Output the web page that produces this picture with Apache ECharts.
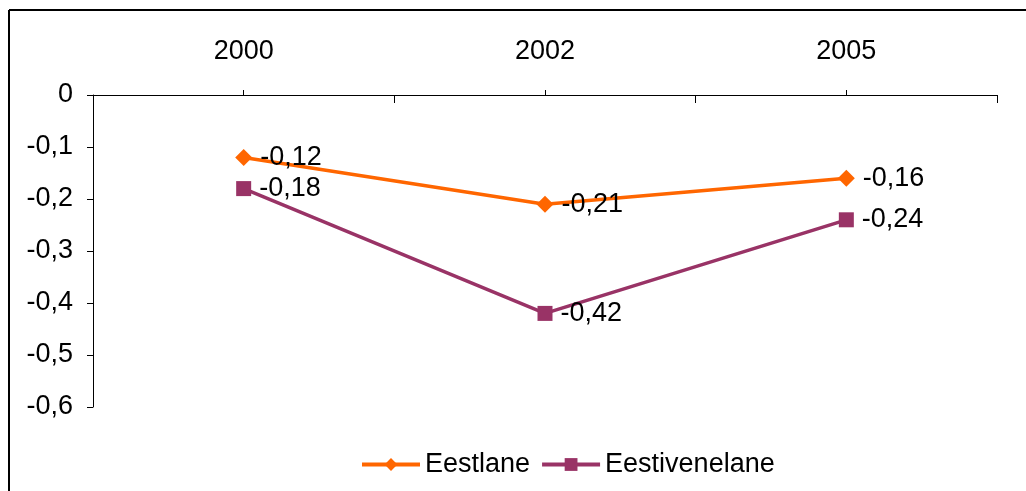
<!DOCTYPE html>
<html>
<head>
<meta charset="utf-8">
<script src="https://cdn.jsdelivr.net/npm/echarts@6/dist/echarts.min.js"></script>
<style>
  html, body { margin: 0; padding: 0; background: #fff; }
  #chart { width: 1026px; height: 491px; }
</style>
</head>
<body>
<div id="chart"></div>
<script>
const years = ['2000', '2002', '2005'];
const eestlane = [-0.12, -0.21, -0.16];
const eestivenelane = [-0.18, -0.42, -0.24];
const yTicks = [0, -0.1, -0.2, -0.3, -0.4, -0.5, -0.6];

const FONT = 'Liberation Sans, Arial, sans-serif';
const FS = 27;
const fmt = v => String(Math.round(v * 100) / 100).replace('.', ',');

const chart = echarts.init(document.getElementById('chart'));

const labelStyle = {
  show: true,
  position: 'right',
  distance: 8,
  color: '#000',
  fontSize: FS,
  fontFamily: FONT,
  formatter: p => fmt(p.value),
};

chart.setOption({
  animation: false,
  backgroundColor: '#fff',
  graphic: [
    { type: 'line', shape: { x1: 9, y1: 10, x2: 1026, y2: 10 }, style: { stroke: '#000', lineWidth: 2 } },
    { type: 'line', shape: { x1: 9, y1: 10, x2: 9, y2: 491 }, style: { stroke: '#000', lineWidth: 2 } },
  ],
  grid: { left: 93, right: 29, top: 95, bottom: 84, containLabel: false },
  legend: {
    left: 355,
    top: 446,
    itemWidth: 58,
    itemHeight: 16,
    itemGap: 10,
    lineStyle: { width: 4 },
    textStyle: { fontSize: FS, fontFamily: FONT, color: '#000' },
    data: ['Eestlane', 'Eestivenelane'],
  },
  xAxis: [
    {
      type: 'category',
      position: 'top',
      data: years,
      boundaryGap: true,
      axisLine: { lineStyle: { color: '#000', width: 1 } },
      axisTick: { show: true, inside: true, length: 8, alignWithLabel: false, lineStyle: { color: '#000' } },
      axisLabel: { margin: 30, fontSize: FS, fontFamily: FONT, color: '#000' },
      splitLine: { show: false },
    },
    {
      type: 'category',
      position: 'top',
      data: years,
      boundaryGap: true,
      axisLine: { show: false },
      axisTick: { show: true, inside: false, length: 5, alignWithLabel: true, lineStyle: { color: '#000' } },
      axisLabel: { show: false },
      splitLine: { show: false },
    },
  ],
  yAxis: {
    type: 'value',
    min: yTicks[yTicks.length - 1],
    max: yTicks[0],
    interval: 0.1,
    axisLine: { show: true, lineStyle: { color: '#000', width: 1 } },
    axisTick: { show: true, inside: false, length: 6, lineStyle: { color: '#000' } },
    axisLabel: { margin: 20, fontSize: FS, fontFamily: FONT, color: '#000', formatter: v => fmt(v) },
    splitLine: { show: false },
  },
  series: [
    {
      name: 'Eestlane',
      type: 'line',
      data: eestlane,
      symbol: 'diamond',
      symbolSize: [17, 17],
      lineStyle: { color: '#FF6600', width: 3.5 },
      itemStyle: { color: '#FF6600' },
      label: labelStyle,
      z: 3,
    },
    {
      name: 'Eestivenelane',
      type: 'line',
      data: eestivenelane,
      symbol: 'rect',
      symbolSize: 15,
      lineStyle: { color: '#993366', width: 3.5 },
      itemStyle: { color: '#993366' },
      label: labelStyle,
      z: 2,
    },
  ],
});
</script>
</body>
</html>
